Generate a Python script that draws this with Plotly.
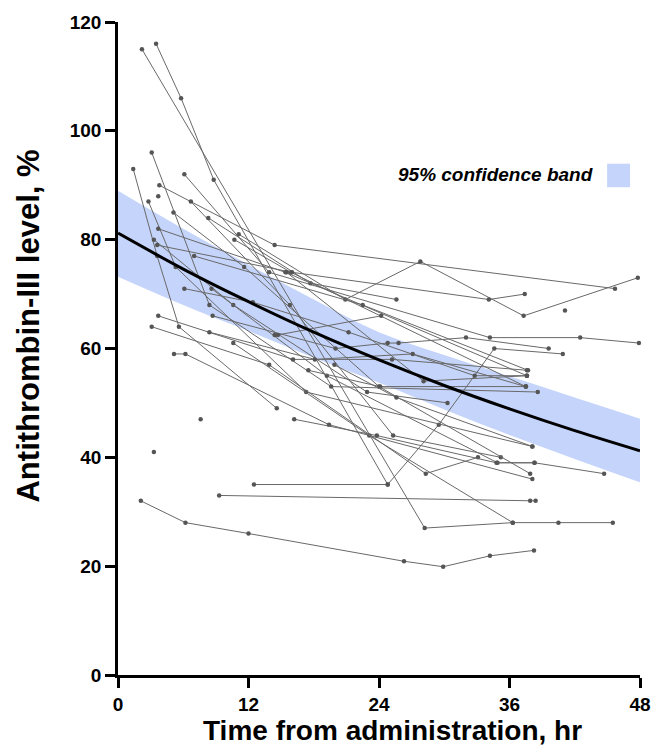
import plotly.graph_objects as go

# ---- data ----
# individual patient trajectories: times (hr) and antithrombin-III levels (%)
patient_times = [
    [2.2, 28.2, 36.3],
    [3.5, 5.8, 8.8, 24.8],
    [12.5, 24.8, 29.5, 34.6, 40.9],
    [1.4, 3.6, 5.6, 14.6],
    [3.1, 8.4, 19.6, 38.6],
    [6.1, 13.9, 34.2, 42.5, 47.9],
    [3.8, 14.4, 45.7],
    [3.7],
    [2.8, 5.3, 17.3, 38.1],
    [6.7, 15.8, 25.3, 35.2],
    [5.1, 11.6, 24.0, 37.9],
    [8.3, 17.7, 25.6],
    [10.7, 15.9, 37.5],
    [11.1, 20.9, 27.8, 37.3, 47.8],
    [3.7, 15.4, 37.6],
    [3.3, 10.6, 22.9, 30.3],
    [3.6, 16.0, 34.1, 37.4],
    [7.0, 22.5, 37.7],
    [6.1, 12.4, 21.2, 32.8, 37.6],
    [8.6, 19.2, 34.9, 38.3, 44.7],
    [3.7, 16.1, 25.2, 37.6],
    [8.7, 20.0, 24.8, 25.8, 32.0, 39.6],
    [3.1, 13.9, 28.3, 33.1],
    [8.4, 18.1, 27.1, 37.5],
    [10.6, 23.1, 36.3, 40.5, 45.5],
    [5.15, 6.2, 19.4, 38.1],
    [3.3],
    [7.6],
    [9.3, 37.9, 38.4],
    [2.1, 6.2, 12.0, 26.3, 29.9, 34.2, 38.25],
    [15.5, 28.1, 37.6],
    [17.5, 24.1, 37.5],
    [19.9, 25.6, 38.1],
    [16.2, 23.8, 34.8, 38.3],
    [14.4, 14.7, 24.2],
    [41.1],
]
patient_levels = [
    [115, 27, 28],
    [116, 106, 91, 35],
    [35, 35, 46, 60, 59],
    [93, 77, 64, 49],
    [96, 68, 53, 52],
    [92, 74, 62, 62, 61],
    [90, 79, 71],
    [88],
    [87, 75, 52, 42],
    [87, 68, 44, 40],
    [85, 75, 53, 37],
    [84, 72, 69],
    [80, 74, 53],
    [81, 69, 76, 66, 73],
    [82, 74, 55],
    [80, 68, 52, 50],
    [79, 74, 69, 70],
    [77, 68, 56],
    [71, 68.5, 63, 55, 55],
    [71, 55, 39, 39, 37],
    [66, 58, 58, 56],
    [66, 60, 61, 61, 62, 60],
    [64, 57, 37, 40],
    [63, 58, 59, 53],
    [61, 44, 28, 28, 28],
    [59, 59, 46, 36],
    [41],
    [47],
    [33, 32, 32],
    [32, 28, 26, 20.9, 19.9, 21.9, 22.9],
    [74, 54, 55],
    [56, 53, 53],
    [57, 51, 42],
    [47, 44, 39, 39],
    [62.5, 62.5, 66],
    [67],
]

# population fit and its 95% confidence band
fit_time = [0, 6, 12, 18, 24, 30, 36, 42, 48]
fit_level = [81.2, 74.6, 68.6, 63.0, 57.9, 53.2, 48.9, 44.9, 41.2]
band_upper = [89.0, 82.0, 75.4, 69.0, 63.0, 58.8, 54.9, 51.0, 47.1]
band_lower = [73.2, 68.0, 63.2, 58.3, 53.7, 48.8, 44.1, 39.7, 35.4]

x_ticks = [0, 12, 24, 36, 48]
y_ticks = [0, 20, 40, 60, 80, 100, 120]

BAND = "rgb(197,212,250)"
FONT = "Liberation Sans, Arial, sans-serif"

fig = go.Figure()

# confidence band
fig.add_trace(go.Scatter(x=fit_time, y=band_upper, mode="lines",
                         line=dict(width=0, shape="spline"), hoverinfo="skip",
                         showlegend=False))
fig.add_trace(go.Scatter(x=fit_time, y=band_lower, mode="lines",
                         line=dict(width=0, shape="spline"), fill="tonexty",
                         fillcolor=BAND, hoverinfo="skip", showlegend=False))

# patient trajectories
for ts, vs in zip(patient_times, patient_levels):
    fig.add_trace(go.Scatter(x=ts, y=vs, mode="lines+markers",
                             line=dict(color="rgb(105,105,105)", width=1),
                             marker=dict(color="rgb(85,85,85)", size=4.5),
                             showlegend=False, cliponaxis=False))

# fitted curve
fig.add_trace(go.Scatter(x=fit_time, y=fit_level, mode="lines",
                         line=dict(color="black", width=3, shape="spline"),
                         showlegend=False))

# legend (text left, swatch right as in the reference)
fig.add_annotation(xref="paper", yref="paper", x=0.914, y=0.766,
                   xanchor="right", yanchor="middle", showarrow=False,
                   text="<b><i>95% confidence band</i></b>",
                   font=dict(family=FONT, size=19, color="black"))
fig.add_shape(type="rect", xref="paper", yref="paper",
              x0=0.937, x1=0.981, y0=0.747, y1=0.783,
              fillcolor=BAND, line=dict(width=0))

# axis titles placed as in the reference
fig.add_annotation(xref="paper", yref="paper", x=-0.172, y=0.534,
                   xanchor="center", yanchor="middle", showarrow=False, textangle=-90,
                   text="<b>Antithrombin-III level, %</b>",
                   font=dict(family=FONT, size=31, color="black"))
fig.add_annotation(xref="paper", yref="paper", x=0.525, y=-0.085,
                   xanchor="center", yanchor="middle", showarrow=False,
                   text="<b>Time from administration, hr</b>",
                   font=dict(family=FONT, size=28, color="black"))

axis_common = dict(showgrid=False, zeroline=False, showline=True,
                   linecolor="black", linewidth=2.5, ticks="outside",
                   ticklen=10, tickwidth=2.5, tickcolor="black",
                   tickfont=dict(family=FONT, size=19, color="black", weight="bold"))

fig.update_xaxes(range=[0, 48], tickvals=x_ticks, **axis_common)
fig.update_yaxes(range=[0, 120], tickvals=y_ticks, **axis_common)

fig.update_layout(width=651, height=748, plot_bgcolor="white", paper_bgcolor="white",
                  margin=dict(l=118, r=11, t=22, b=73, autoexpand=False),
                  font=dict(family=FONT))

# remove the default 8px page margin so the figure fills the window exactly
fig.write_html("out.html", config={"displayModeBar": False},
               post_script="document.body.style.margin='0';document.body.style.overflow='hidden';")
